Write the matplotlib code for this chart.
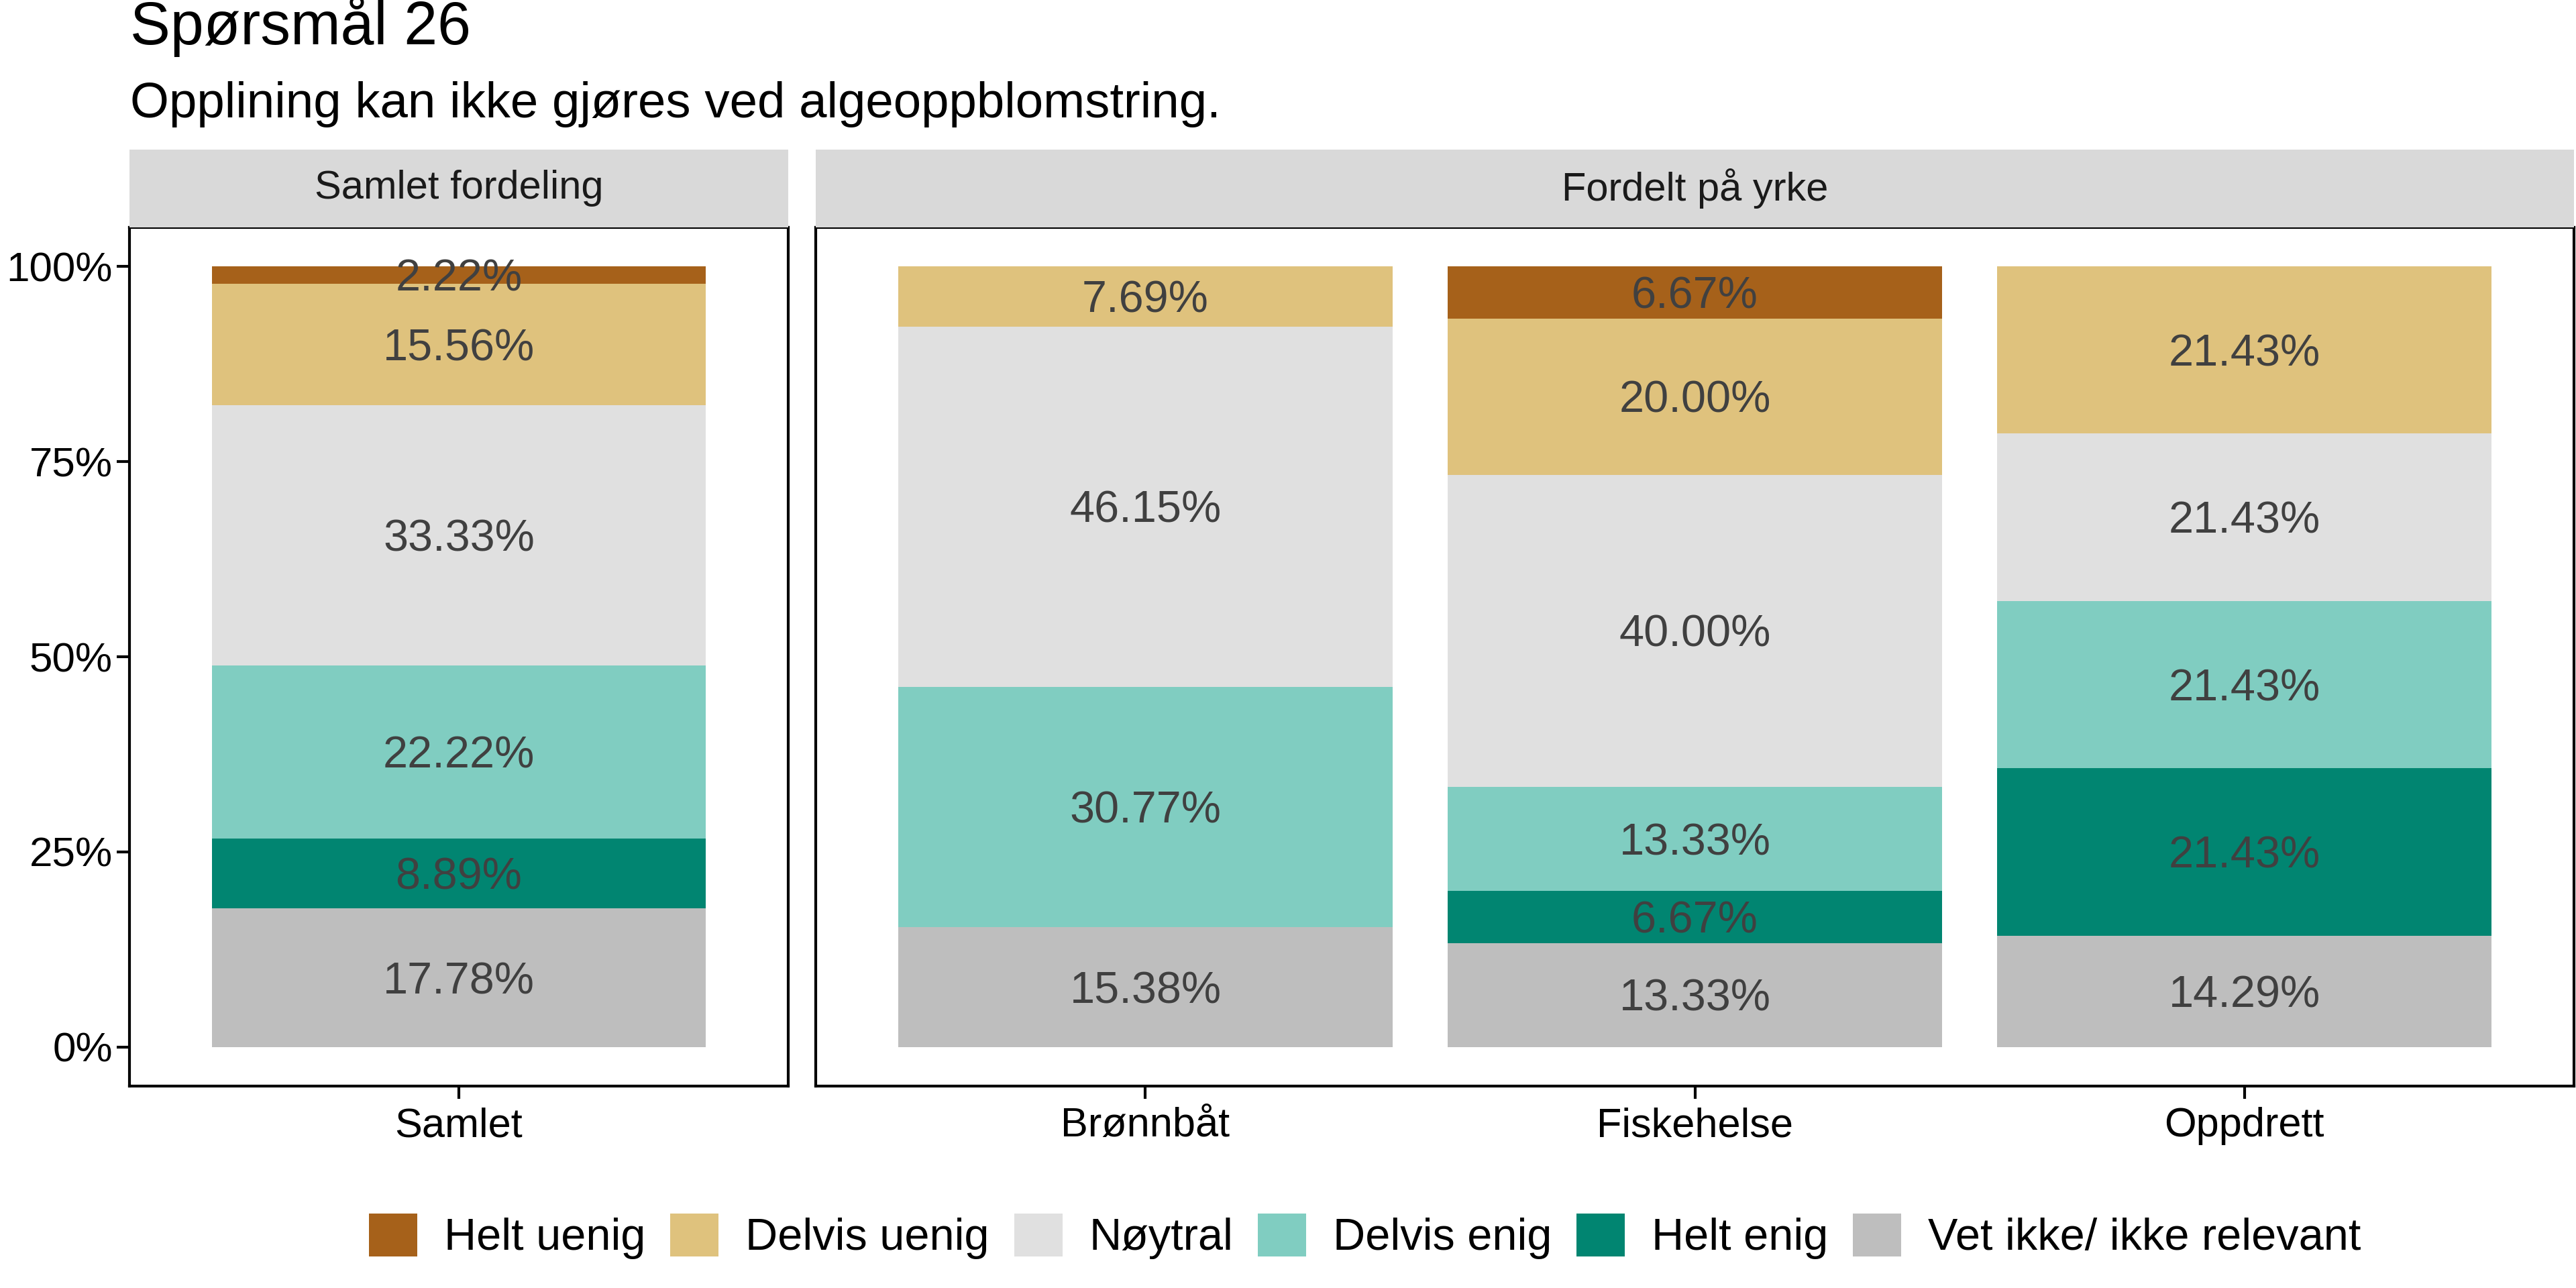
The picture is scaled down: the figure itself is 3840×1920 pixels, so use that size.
import matplotlib
matplotlib.use("Agg")
import matplotlib.pyplot as plt
from matplotlib.patches import Patch
import matplotlib.transforms as mtransforms
import numpy as np

plt.rcParams['font.family'] = ['Liberation Sans', 'DejaVu Sans']

title = "Spørsmål 26"
subtitle = "Opplining kan ikke gjøres ved algeoppblomstring."

responses = ["Helt uenig", "Delvis uenig", "Nøytral", "Delvis enig", "Helt enig", "Vet ikke/ ikke relevant"]
colors = ["#A6611A", "#DFC27D", "#E0E0E0", "#80CDC1", "#018571", "#BEBEBE"]

left_title = "Samlet fordeling"
right_title = "Fordelt på yrke"

left_categories = ["Samlet"]
left_values = {
    "Samlet": [2.22, 15.56, 33.33, 22.22, 8.89, 17.78],
}

right_categories = ["Brønnbåt", "Fiskehelse", "Oppdrett"]
right_values = {
    "Brønnbåt":   [0.00, 7.69, 46.15, 30.77, 0.00, 15.38],
    "Fiskehelse": [6.67, 20.00, 40.00, 13.33, 6.67, 13.33],
    "Oppdrett":   [0.00, 21.43, 21.43, 21.43, 21.43, 14.29],
}

yticks = [0, 0.25, 0.5, 0.75, 1.0]
yticklabels = ["0%", "25%", "50%", "75%", "100%"]

W, H = 3840, 1920
fig = plt.figure(figsize=(12.8, 6.4), dpi=300)

def fx(px):
    return px / W

def fy(py):
    return 1 - py / H

panel_top, panel_bot = 339, 1619
strip_top = 223

def draw_panel(x0, x1, cats, vals, strip_label, show_y):
    ax = fig.add_axes([fx(x0), fy(panel_bot), fx(x1) - fx(x0), fy(panel_top) - fy(panel_bot)])
    n = len(cats)
    xs = np.arange(n)
    shift = mtransforms.offset_copy(ax.transData, fig=fig, x=0, y=-1.6, units='points')
    order = list(range(len(responses)))[::-1]
    for i, c in enumerate(cats):
        v = vals[c]
        bottom = 0.0
        for k in order:
            h = v[k] / 100.0
            if h > 0:
                ax.bar(xs[i], h, bottom=bottom, width=0.9, color=colors[k], linewidth=0)
                ax.text(xs[i], bottom + h / 2, f"{v[k]:.2f}%", ha='center', va='center',
                        fontsize=16, color='#404040', transform=shift)
            bottom += h
    ax.set_xlim(-0.6, n - 1 + 0.6)
    ax.set_ylim(-0.05, 1.05)
    ax.set_xticks(xs)
    ax.set_xticklabels(cats, fontsize=14.7, color='black')
    ax.set_yticks(yticks)
    if show_y:
        ax.set_yticklabels(yticklabels, fontsize=14.9, color='black')
        ax.tick_params(axis='y', length=4.5, width=1.0, pad=1.5)
    else:
        ax.set_yticklabels([])
        ax.tick_params(axis='y', length=0)
    ax.tick_params(axis='x', length=4.5, width=1.0, pad=3)
    for s in ax.spines.values():
        s.set_linewidth(1.0)
        s.set_color('black')
    ax.set_facecolor('white')
    sax = fig.add_axes([fx(x0), fy(panel_top), fx(x1) - fx(x0), fy(strip_top) - fy(panel_top)])
    sax.set_facecolor('#D9D9D9')
    sax.set_xticks([]); sax.set_yticks([])
    for s in sax.spines.values():
        s.set_visible(False)
    sax.text(0.5, 0.5, strip_label, ha='center', va='center', fontsize=14.3, color='#1A1A1A',
             transform=sax.transAxes)
    return ax

draw_panel(193, 1175, left_categories, left_values, left_title, True)
draw_panel(1216, 3837, right_categories, right_values, right_title, False)

fig.text(fx(194), fy(66), title, fontsize=21.5, ha='left', va='baseline', color='black')
fig.text(fx(194), fy(175), subtitle, fontsize=17.9, ha='left', va='baseline', color='black')

handles = [Patch(facecolor=c, edgecolor='none') for c in colors]
fig.legend(handles, responses, loc='center', bbox_to_anchor=(fx(2035), fy(1843)),
           ncol=6, frameon=False, fontsize=16, handlelength=1.08, handleheight=1.1,
           handletextpad=0.6, columnspacing=0.55, borderpad=0, borderaxespad=0)

fig.savefig("out.png", dpi=300, facecolor='white')
